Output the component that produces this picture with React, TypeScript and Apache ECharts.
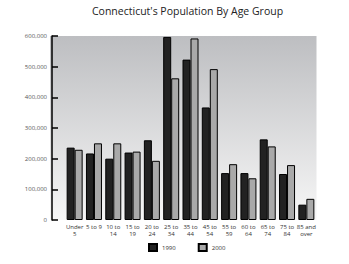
import React, { useEffect, useRef } from "react";
import * as echarts from "echarts";

const categories = [
  "Under\n5", "5 to 9", "10 to\n14", "15 to\n19", "20 to\n24", "25 to\n34", "35 to\n44",
  "45 to\n54", "55 to\n59", "60 to\n64", "65 to\n74", "75 to\n84", "85 and\nover",
];
const pop1990 = [236000, 217000, 200000, 220000, 260000, 597000, 523000, 367000, 153000, 153000, 263000, 150000, 50000];
const pop2000 = [229000, 250000, 250000, 223000, 193000, 462000, 592000, 492000, 182000, 136000, 240000, 179000, 69000];
const seriesNames = ["1990", "2000"];

export default function App() {
  const ref = useRef<HTMLDivElement>(null);
  useEffect(() => {
    if (!ref.current) return;
    const chart = echarts.init(ref.current, null, { renderer: "svg" });
    const font = "Open Sans";
    chart.setOption({
      animation: false,
      backgroundColor: "#ffffff",
      title: {
        text: "Connecticut's Population By Age Group",
        left: 92,
        top: 5,
        padding: 0,
        textStyle: { fontFamily: font, fontSize: 10.5, fontWeight: "normal", color: "#222" },
      },
      legend: {
        data: seriesNames,
        left: 148,
        top: 243,
        padding: 0,
        itemWidth: 8,
        itemHeight: 7,
        itemGap: 22,
        icon: "rect",
        textStyle: { fontFamily: font, fontSize: 6, color: "#333" },
      },
      graphic: [
        {
          type: "rect",
          z: -10,
          silent: true,
          shape: { x: 50, y: 36, width: 266.5, height: 184 },
          style: {
            fill: new echarts.graphic.LinearGradient(0, 0, 0, 1, [
              { offset: 0, color: "#bdbec1" },
              { offset: 1, color: "#f7f7f7" },
            ]),
          },
        },
      ],
      grid: {
        left: 65,
        right: 33,
        top: 36,
        bottom: 44,
        show: false,
      },
      xAxis: {
        type: "category",
        data: categories,
        axisLine: { show: false },
        axisTick: { show: false },
        axisLabel: {
          interval: 0,
          fontFamily: font,
          fontSize: 6,
          lineHeight: 7,
          color: "#333",
          margin: 3,
        },
      },
      yAxis: {
        type: "value",
        min: 0,
        max: 600000,
        interval: 100000,
        offset: 13,
        axisLine: { show: true, lineStyle: { color: "#000", width: 1.5 } },
        axisTick: { show: true, inside: true, length: 6, lineStyle: { color: "#000", width: 1.5 } },
        splitLine: { show: false },
        axisLabel: {
          fontFamily: font,
          fontSize: 6,
          color: "#555",
          margin: 5,
          formatter: (v: number) => v.toLocaleString("en-US"),
        },
      },
      series: [
        {
          name: seriesNames[0],
          type: "bar",
          data: pop1990,
          barWidth: 8,
          barGap: "0%",
          itemStyle: { color: "#222222", borderColor: "#000", borderWidth: 1 },
        },
        {
          name: seriesNames[1],
          type: "bar",
          data: pop2000,
          barWidth: 8,
          itemStyle: { color: "#a9a9a9", borderColor: "#000", borderWidth: 1 },
        },
      ],
    });
    return () => chart.dispose();
  }, []);
  return <div ref={ref} style={{ width: 349, height: 264, position: "absolute", left: 0, top: 0 }} />;
}
